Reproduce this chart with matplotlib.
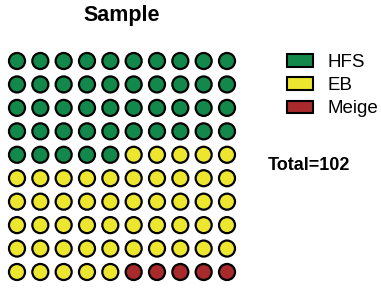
import matplotlib
matplotlib.use("Agg")
import matplotlib.pyplot as plt
from matplotlib.patches import Patch

plt.rcParams['font.family'] = ['Liberation Sans', 'DejaVu Sans']

categories = ["HFS", "EB", "Meige"]
counts = [45, 50, 5]
colors = ["#12894A", "#EDE62F", "#A82A2C"]
title = "Sample"
total_label = "Total=102"
ncols, nrows = 10, 10

W, H = 381, 289
fig = plt.figure(figsize=(W / 100, H / 100), dpi=100)

# grid axes: centers col0 at x=17px, col9 at 227px; row0 at y=61px, row9 at 272px
dx = (227 - 17) / 9
dy = (272 - 61) / 9
left = 17 - dx / 2
top = 61 - dy / 2
ax = fig.add_axes([left / W, 1 - (top + 10 * dy) / H, 10 * dx / W, 10 * dy / H])
ax.set_xlim(-0.5, ncols - 0.5)
ax.set_ylim(nrows - 0.5, -0.5)
ax.axis('off')

xs, ys, cs = [], [], []
idx = 0
for cat_i, n in enumerate(counts):
    for _ in range(n):
        r, c = divmod(idx, ncols)
        xs.append(c)
        ys.append(r)
        cs.append(colors[cat_i])
        idx += 1
ax.scatter(xs, ys, s=133, c=cs, edgecolors='black', linewidths=1.6, clip_on=False)

fig.text(122 / W, 1 - 15 / H, title, ha='center', va='center', fontsize=15.5, fontweight='bold')

handles = [Patch(facecolor=col, edgecolor='black', linewidth=1.5) for col in colors]
fig.legend(handles, categories, loc='upper left', bbox_to_anchor=(287 / W, 1 - 54 / H),
           frameon=False, fontsize=13.5, handlelength=1.39, handleheight=0.64,
           labelspacing=0.33, handletextpad=0.75, borderpad=0, borderaxespad=0)

fig.text(268 / W, 1 - 165 / H, total_label, ha='left', va='center', fontsize=13, fontweight='bold')

fig.savefig("out.png", dpi=100)
